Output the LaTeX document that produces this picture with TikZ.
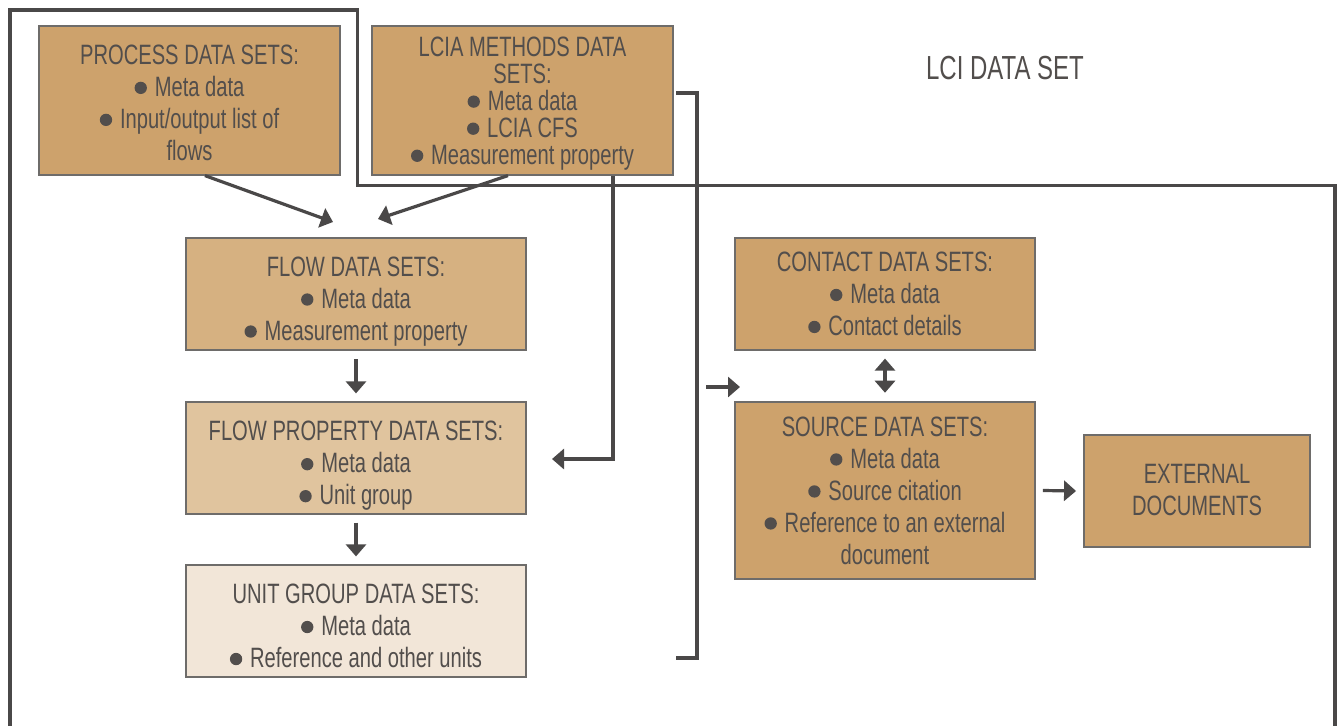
\documentclass[tikz,border=0pt]{standalone}
\usepackage{fontspec}
\setmainfont{Liberation Sans}[FakeStretch=0.72]
\usetikzlibrary{arrows.meta}
\definecolor{tanA}{RGB}{205,162,108}
\definecolor{tanB}{RGB}{214,177,129}
\definecolor{tanC}{RGB}{224,196,158}
\definecolor{tanD}{RGB}{242,230,216}
\definecolor{txt}{RGB}{82,78,76}
\definecolor{ln}{RGB}{74,72,72}
\definecolor{bd}{RGB}{110,108,106}
\newcommand\bul{\tikz[baseline=0pt]\fill[txt] (0pt,0.31em) circle [radius=0.22em];\hspace{0.28em}}
\begin{document}
\begin{tikzpicture}[x=0.75pt,y=-0.75pt,
  box/.style={draw=bd, line width=0.9pt, rectangle, inner sep=0pt},
  boxtext/.style={inner sep=0pt, align=center, text=txt, font=\fontsize{21}{24}\selectfont},
  conn/.style={draw=ln, line width=2.4pt},
  arr/.style={conn, -{Triangle[length=9pt,width=15pt]}},
  darr/.style={conn, {Triangle[length=9pt,width=15pt]}-{Triangle[length=9pt,width=15pt]}},
]
\useasboundingbox (0,0) rectangle (1339,725);

% outer frame
\draw[conn, line join=miter] (10,726) -- (10,10) -- (357.5,10) -- (357.5,185.5) -- (1335,185.5) -- (1335,726);

% boxes
\node[box, fill=tanA, minimum width=225.75pt, minimum height=111.75pt] (proc) at (189.5,100.5) {};
\node[boxtext] at ([yshift=-1.8pt]proc.center)
  {PROCESS DATA SETS:\\ \bul Meta data\\ \bul Input/output list of\\ flows};
\node[box, fill=tanA, minimum width=225.75pt, minimum height=111.75pt] (lcia) at (522.5,100.5) {};
\node[boxtext, font=\fontsize{21}{20.3}\selectfont] at ([yshift=-2.2pt]lcia.center)
  {LCIA METHODS DATA\\ SETS:\\ \bul Meta data\\ \bul LCIA CFS\\ \bul Measurement property};
\node[box, fill=tanB, minimum width=255pt, minimum height=84pt] (flow) at (356,294) {};
\node[boxtext] at ([yshift=-5.5pt]flow.center)
  {FLOW DATA SETS:\\ \bul Meta data\\ \bul Measurement property};
\node[box, fill=tanC, minimum width=255pt, minimum height=84pt] (fprop) at (356,458) {};
\node[boxtext] at ([yshift=-6pt]fprop.center)
  {FLOW PROPERTY DATA SETS:\\ \bul Meta data\\ \bul Unit group};
\node[box, fill=tanD, minimum width=255pt, minimum height=84pt] (unit) at (356,621) {};
\node[boxtext] at ([yshift=-3.8pt]unit.center)
  {UNIT GROUP DATA SETS:\\ \bul Meta data\\ \bul Reference and other units};
\node[box, fill=tanA, minimum width=225pt, minimum height=84pt] (contact) at (885,294) {};
\node[boxtext] at (contact.center)
  {CONTACT DATA SETS:\\ \bul Meta data\\ \bul Contact details};
\node[box, fill=tanA, minimum width=225pt, minimum height=132.75pt] (source) at (885,490.5) {};
\node[boxtext] at (source.center)
  {SOURCE DATA SETS:\\ \bul Meta data\\ \bul Source citation\\ \bul Reference to an external\\ document};
\node[box, fill=tanA, minimum width=169.5pt, minimum height=84pt] (ext) at (1197,491) {};
\node[boxtext] at ([yshift=0.6pt]ext.center) {EXTERNAL\\ DOCUMENTS};

\node[text=txt, font=\fontsize{25}{28}\selectfont, inner sep=0pt] (lci) at (1005,68) {LCI DATA SET};

% free-end coordinates
\coordinate (t1) at (333,222);
\coordinate (t2) at (378,219);
\coordinate (t3) at (552,459);
\coordinate (b1) at (676,93);
\coordinate (b2) at (697,93);
\coordinate (b3) at (697,658);
\coordinate (b4) at (676,658);
\coordinate (a1) at (706,387);
\coordinate (a2) at (740,387);

% connectors
\draw[arr] ([xshift=11.6pt]proc.south) -- (t1);
\draw[arr] ([xshift=-10.9pt]lcia.south) -- (t2);
\draw[arr, line join=miter] ([xshift=67.9pt]lcia.south) |- (t3);
\draw[arr] ([yshift=-6.5pt]flow.south) -- ([yshift=6pt]fprop.north);
\draw[arr] ([yshift=-6pt]fprop.south) -- ([yshift=6pt]unit.north);
\draw[darr] ([yshift=-6pt]contact.south) -- ([yshift=6.5pt]source.north);
\draw[arr] ([xshift=5.5pt]source.east) -- ([xshift=-5.5pt]ext.west);
\draw[conn, line join=miter] (b1) -- (b2) -- (b3) -- (b4);
\draw[arr] (a1) -- (a2);
\end{tikzpicture}
\end{document}
